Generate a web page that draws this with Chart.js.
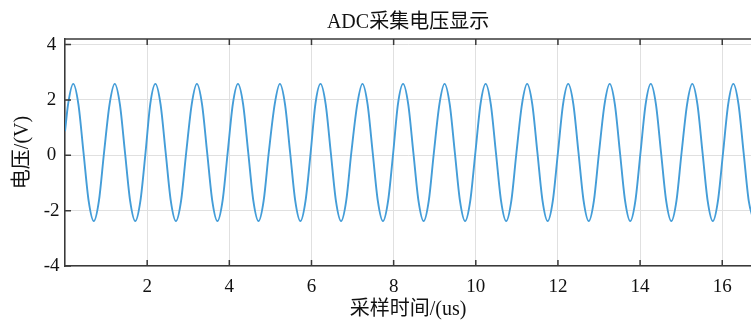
<!DOCTYPE html>
<html>
<head>
<meta charset="utf-8">
<title>ADC采集电压显示</title>
<script src="https://cdn.jsdelivr.net/npm/chart.js@4.4.1/dist/chart.umd.min.js"></script>
<style>
  html, body { margin: 0; padding: 0; background: #fff; }
  canvas { display: block; }
</style>
</head>
<body>
<canvas id="adc_chart" width="751" height="322"></canvas>
<script>
// sample times (us), one row per period
var time_us = [
  0,
  0.075, 0.20, 0.325, 0.45, 0.575, 0.70, 0.825, 0.95,
  1.085, 1.21, 1.335, 1.46, 1.585, 1.71, 1.835, 1.96,
  2.075, 2.20, 2.325, 2.45, 2.575, 2.70, 2.825, 2.95,
  3.085, 3.21, 3.335, 3.46, 3.585, 3.71, 3.835, 3.96,
  4.085, 4.21, 4.335, 4.46, 4.585, 4.71, 4.835, 4.96,
  5.105, 5.23, 5.355, 5.48, 5.605, 5.73, 5.855, 5.98,
  6.095, 6.22, 6.345, 6.47, 6.595, 6.72, 6.845, 6.97,
  7.115, 7.24, 7.365, 7.49, 7.615, 7.74, 7.865, 7.99,
  8.105, 8.23, 8.355, 8.48, 8.605, 8.73, 8.855, 8.98,
  9.115, 9.24, 9.365, 9.49, 9.615, 9.74, 9.865, 9.99,
  10.115, 10.24, 10.365, 10.49, 10.615, 10.74, 10.865, 10.99,
  11.125, 11.25, 11.375, 11.50, 11.625, 11.75, 11.875, 12.00,
  12.125, 12.25, 12.375, 12.50, 12.625, 12.75, 12.875, 13.00,
  13.135, 13.26, 13.385, 13.51, 13.635, 13.76, 13.885, 14.01,
  14.135, 14.26, 14.385, 14.51, 14.635, 14.76, 14.885, 15.01,
  15.145, 15.27, 15.395, 15.52, 15.645, 15.77, 15.895, 16.02,
  16.145, 16.27, 16.395, 16.52, 16.645, 16.77
];

// voltage (V) at those times
var volts = [
  0.87,
  1.85, 2.58, 1.85, 0.10, -1.65, -2.38, -1.65, 0.10,
  1.85, 2.58, 1.85, 0.10, -1.65, -2.38, -1.65, 0.10,
  1.85, 2.58, 1.85, 0.10, -1.65, -2.38, -1.65, 0.10,
  1.85, 2.58, 1.85, 0.10, -1.65, -2.38, -1.65, 0.10,
  1.85, 2.58, 1.85, 0.10, -1.65, -2.38, -1.65, 0.10,
  1.85, 2.58, 1.85, 0.10, -1.65, -2.38, -1.65, 0.10,
  1.85, 2.58, 1.85, 0.10, -1.65, -2.38, -1.65, 0.10,
  1.85, 2.58, 1.85, 0.10, -1.65, -2.38, -1.65, 0.10,
  1.85, 2.58, 1.85, 0.10, -1.65, -2.38, -1.65, 0.10,
  1.85, 2.58, 1.85, 0.10, -1.65, -2.38, -1.65, 0.10,
  1.85, 2.58, 1.85, 0.10, -1.65, -2.38, -1.65, 0.10,
  1.85, 2.58, 1.85, 0.10, -1.65, -2.38, -1.65, 0.10,
  1.85, 2.58, 1.85, 0.10, -1.65, -2.38, -1.65, 0.10,
  1.85, 2.58, 1.85, 0.10, -1.65, -2.38, -1.65, 0.10,
  1.85, 2.58, 1.85, 0.10, -1.65, -2.38, -1.65, 0.10,
  1.85, 2.58, 1.85, 0.10, -1.65, -2.38, -1.65, 0.10,
  1.85, 2.58, 1.85, 0.10, -1.65, -2.38
];

var x_ticks = [2, 4, 6, 8, 10, 12, 14, 16];
var y_ticks = [-4, -2, 0, 2, 4];

var serif = '"Liberation Serif", "Noto Sans CJK SC", serif';
var axis_color = '#3a3a3a';

var points = time_us.map(function(t, i) { return { x: t, y: volts[i] }; });

// MATLAB-like inward ticks + top box line
var inwardTicks = {
  id: 'inwardTicks',
  afterDraw: function(chart) {
    var ctx = chart.ctx;
    var area = chart.chartArea;
    var xs = chart.scales.x, ys = chart.scales.y;
    ctx.save();
    ctx.strokeStyle = axis_color;
    ctx.lineWidth = 1.5;
    ctx.beginPath();
    ctx.moveTo(area.left, area.top);
    ctx.lineTo(area.right, area.top);
    x_ticks.forEach(function(v) {
      var px = xs.getPixelForValue(v);
      ctx.moveTo(px, area.bottom);
      ctx.lineTo(px, area.bottom - 6);
      ctx.moveTo(px, area.top);
      ctx.lineTo(px, area.top + 6);
    });
    y_ticks.forEach(function(v) {
      var py = ys.getPixelForValue(v);
      ctx.moveTo(area.left, py);
      ctx.lineTo(area.left + 6, py);
    });
    ctx.stroke();
    ctx.restore();
  }
};

var adc_ctx = document.getElementById('adc_chart').getContext('2d');

var adc_chart = new Chart(adc_ctx, {
  type: 'line',
  data: {
    datasets: [{
      label: 'ADC',
      data: points,
      borderColor: '#449dd8',
      borderWidth: 1.9,
      pointRadius: 0,
      cubicInterpolationMode: 'monotone',
      fill: false
    }]
  },
  options: {
    responsive: false,
    animation: false,
    layout: { padding: { left: 4, right: 0, top: 0, bottom: 0 } },
    plugins: {
      legend: { display: false },
      tooltip: { enabled: false },
      title: {
        display: true,
        text: 'ADC采集电压显示',
        fullSize: false,
        color: '#111',
        font: { family: serif, size: 20, weight: 'normal' },
        padding: { top: 11, bottom: 4 }
      }
    },
    scales: {
      x: {
        type: 'linear',
        min: 0,
        max: 16.7,
        grid: { color: '#e0e0e0', lineWidth: 1, drawTicks: false },
        border: { color: axis_color, width: 1.5 },
        ticks: {
          stepSize: 2,
          includeBounds: false,
          padding: 10,
          color: '#111',
          font: { family: serif, size: 19 },
          callback: function(v) { return v === 0 ? '' : v; }
        },
        title: {
          display: true,
          text: '采样时间/(us)',
          color: '#111',
          font: { family: serif, size: 20 },
          padding: { top: -10.8, bottom: 0 }
        }
      },
      y: {
        type: 'linear',
        min: -4,
        max: 4.2,
        grid: { color: '#e0e0e0', lineWidth: 1, drawTicks: false },
        border: { color: axis_color, width: 1.5 },
        ticks: {
          stepSize: 2,
          includeBounds: false,
          padding: 5.5,
          crossAlign: 'center',
          color: '#111',
          font: { family: serif, size: 19 }
        },
        title: {
          display: true,
          text: '电压/(V)',
          color: '#111',
          font: { family: serif, size: 20 },
          padding: { top: 7, bottom: 3.2 }
        }
      }
    }
  },
  plugins: [inwardTicks]
});
</script>
</body>
</html>
